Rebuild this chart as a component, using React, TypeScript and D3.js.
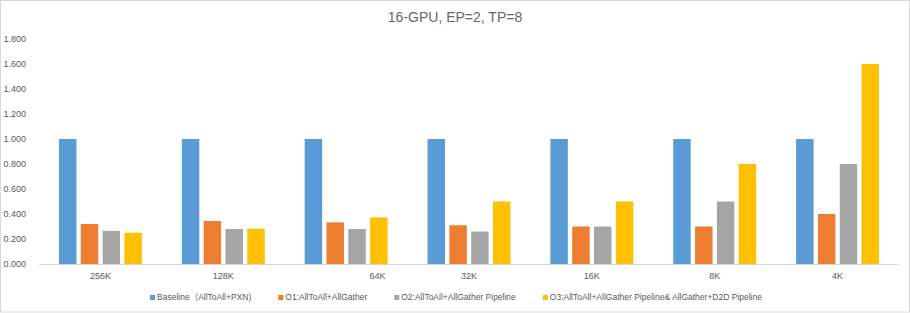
import React, { useEffect, useRef } from "react";
import * as d3 from "d3";

// message sizes on the x axis
const categories = ["256K", "128K", "64K", "32K", "16K", "8K", "4K"];
// the 64K label sits off-centre in the original, padded with spaces
const tickLabels = ["256K", "128K", "                         64K", "32K", "16K", "8K", "4K"];

const seriesNames = [
  "Baseline（AllToAll+PXN)",
  "O1:AllToAll+AllGather",
  "O2:AllToAll+AllGather Pipeline",
  "O3:AllToAll+AllGather Pipeline& AllGather+D2D Pipeline",
];

const baseline = [1.0, 1.0, 1.0, 1.0, 1.0, 1.0, 1.0];
const o1 = [0.32, 0.344, 0.333, 0.31, 0.3, 0.3, 0.4];
const o2 = [0.265, 0.28, 0.28, 0.26, 0.3, 0.5, 0.8];
const o3 = [0.25, 0.283, 0.373, 0.5, 0.5, 0.8, 1.6];

const yTicks = [0, 0.2, 0.4, 0.6, 0.8, 1.0, 1.2, 1.4, 1.6, 1.8];

const colors = ["#5B9BD5", "#ED7D31", "#A5A5A5", "#FFC000"];

export default function App({
  width = 910,
  height = 313,
  marginTop = 39,
  marginRight = 11,
  marginBottom = 49,
  marginLeft = 39,
}) {
  const svgRef = useRef<SVGSVGElement>(null);

  useEffect(() => {
    const svg = d3.select(svgRef.current);
    svg.selectAll("*").remove();

    const font = "Liberation Sans, Noto Sans CJK SC, sans-serif";
    const textColor = "#595959";
    const series = [baseline, o1, o2, o3];

    // outer frame
    svg.append("rect")
      .attr("x", 0.5).attr("y", 0.5)
      .attr("width", width - 1).attr("height", height - 1.5)
      .attr("fill", "white")
      .attr("stroke", "#D9D9D9");

    const x0 = d3.scaleBand()
      .domain(categories)
      .range([marginLeft, width - marginRight])
      .paddingInner(0.325)
      .paddingOuter(0.1625);

    const x1 = d3.scaleBand()
      .domain(d3.range(series.length).map(String))
      .range([0, x0.bandwidth()])
      .paddingInner(0.2);

    const y = d3.scaleLinear()
      .domain([0, 1.8])
      .range([height - marginBottom, marginTop]);

    // title
    svg.append("text")
      .attr("x", width / 2)
      .attr("y", 22)
      .attr("text-anchor", "middle")
      .attr("font-family", font)
      .attr("font-size", 14)
      .attr("fill", "#666")
      .text("16-GPU, EP=2, TP=8");

    // bars
    series.forEach((values, si) => {
      svg.append("g")
        .selectAll("rect")
        .data(values)
        .join("rect")
        .attr("x", (d, i) => x0(categories[i])! + x1(String(si))!)
        .attr("y", (d) => y(d))
        .attr("width", x1.bandwidth())
        .attr("height", (d) => y(0) - y(d))
        .attr("fill", colors[si]);
    });

    // y axis labels (no line, no gridlines)
    const yAxis = svg.append("g")
      .attr("transform", `translate(${marginLeft - 10}, 0)`)
      .call(d3.axisLeft(y).tickValues(yTicks).tickFormat(d3.format(".3f")).tickSize(0));
    yAxis.select(".domain").remove();
    yAxis.selectAll("text")
      .attr("font-family", font)
      .attr("font-size", 9)
      .attr("fill", textColor);

    // x axis
    const xAxis = svg.append("g")
      .attr("transform", `translate(0, ${y(0)})`)
      .call(d3.axisBottom(x0).tickSize(0).tickPadding(9).tickFormat((d, i) => tickLabels[i]));
    xAxis.select(".domain")
      .attr("stroke", "#D9D9D9")
      .attr("d", `M${marginLeft},0.5H${width - marginRight}`);
    xAxis.selectAll("text")
      .attr("font-family", font)
      .attr("font-size", 9)
      .attr("fill", textColor)
      .style("white-space", "pre");

    // legend, laid out from measured text widths and centred
    const legend = svg.append("g");
    const items = legend.selectAll("g")
      .data(seriesNames)
      .join("g");
    items.append("rect")
      .attr("width", 5).attr("height", 5)
      .attr("y", -5)
      .attr("fill", (d, i) => colors[i]);
    items.append("text")
      .attr("x", 7)
      .attr("font-family", font)
      .attr("font-size", 8.5)
      .attr("fill", textColor)
      .text((d) => d);

    const gap = 27;
    let cursor = 0;
    items.each(function () {
      const g = d3.select(this);
      const w = 7 + (g.select("text").node() as SVGTextElement).getComputedTextLength();
      g.attr("transform", `translate(${cursor},0)`);
      cursor += w + gap;
    });
    const total = cursor - gap;
    legend.attr("transform", `translate(${(width - total) / 2 + 1}, 300)`);
  }, [width, height, marginTop, marginRight, marginBottom, marginLeft]);

  return (
    <svg
      ref={svgRef}
      width={width}
      height={height}
      style={{ position: "fixed", left: 0, top: 0, background: "white" }}
    />
  );
}
